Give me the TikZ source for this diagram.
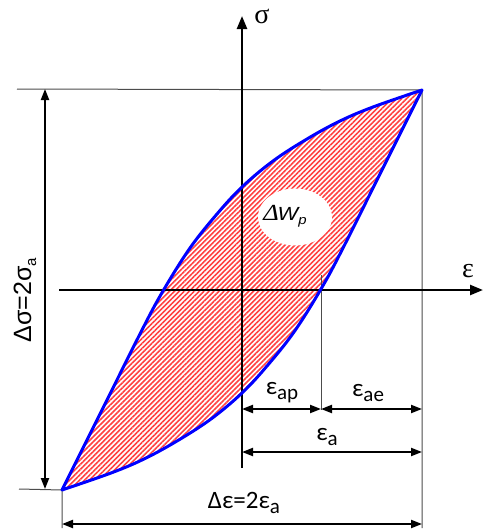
\documentclass[tikz,border=0pt]{standalone}
\usepackage{fontspec}
\setmainfont{Carlito}
\newfontfamily\arialf{Liberation Sans}
\newfontfamily\timesf{Liberation Serif}
\usetikzlibrary{arrows.meta,patterns.meta,shapes.geometric}
\begin{document}
\begin{tikzpicture}[x=1pt,y=-1pt,
  axis/.style={line width=2.4pt,-{Triangle[length=13pt,width=10pt]}},
  dim/.style={line width=2pt,{Triangle[length=11pt,width=8pt]}-{Triangle[length=11pt,width=8pt]}},
  thin/.style={line width=1pt,black!70},
  loopline/.style={line width=3pt,blue,line join=round},
  hatch/.style={pattern={Lines[angle=45,distance=3.5pt,line width=1.6pt]},pattern color=red!75},
  lab/.style={font=\fontsize{25}{28}\selectfont,inner sep=0pt},
  axlab/.style={font=\timesf\fontsize{28}{30}\selectfont,inner sep=0pt}]
\useasboundingbox (0,0) rectangle (483,530);
% key points
\coordinate (O) at (242,290);
\coordinate (A) at (422,90);
\coordinate (B) at (62,490);
\coordinate (P) at (321,290);
\coordinate (Ytop) at (242,16);
\coordinate (Ybot) at (242,468);
\coordinate (Xl) at (59,290);
\coordinate (Xr) at (483,290);
\def\upperpts{(62,490) (102,410) (142,330) (163,291) (190,248) (217,214) (242,187) (273,161) (307,139) (340,121) (373,107) (422,90)}
\def\lowerpts{(422,90) (382,170) (342,250) (321,289) (294,332) (267,366) (242,393) (211,419) (177,441) (144,459) (111,473) (62,490)}
% hatched loop
\path[hatch] plot[smooth,tension=0.6] coordinates {\upperpts}
  -- plot[smooth,tension=0.6] coordinates {\lowerpts} -- cycle;
\node[ellipse,fill=white,minimum width=74pt,minimum height=57pt,inner sep=0pt] (ell) at (295,217) {};
\node[inner sep=0pt] (dw) at (285,216) {\scalebox{1.15}[1]{\timesf\itshape\fontsize{23}{24}\selectfont Δ\kern-1pt\arialf\itshape\fontsize{19}{22}\selectfont W\raisebox{-4pt}{\fontsize{13}{14}\selectfont p}}};
% thin reference lines
\coordinate (T1) at (17,89);
\coordinate (B1) at (19,489);
\coordinate (Rb) at (422,528);
\coordinate (Lb) at (62,528);
\coordinate (Pt) at (321,275);
\coordinate (Pb) at (321,410);
\draw[thin] (T1) -- (A) -- (Rb);
\draw[thin] (B1) -- (B) -- (Lb);
\draw[thin] (Pt) -- (Pb);
% axes
\draw[axis] (Ybot) -- (Ytop);
\draw[axis] (Xl) -- (Xr);
\node[axlab] (sig) at (262,16) {σ};
\node[axlab] (eps) at (468,271) {ε};
% loop outline
\draw[loopline] plot[smooth,tension=0.6] coordinates {\upperpts}
  -- plot[smooth,tension=0.6] coordinates {\lowerpts} -- cycle;
% dimension arrows
\coordinate (Vt) at (45,89);
\coordinate (Vb) at (45,489);
\draw[dim] (Vt) -- (Vb);
\node[font=\arialf\fontsize{25}{28}\selectfont,inner sep=0pt,rotate=90] (ds) at (25,300) {Δσ=2σ\raisebox{-5pt}{\fontsize{15}{18}\selectfont a}};
\coordinate (a1) at (242,409);
\coordinate (a2) at (321,409);
\coordinate (a3) at (422,409);
\draw[dim] (a1) -- (a2);
\draw[dim] (a2) -- (a3);
\node[lab] (eap) at (282,393) {ε\raisebox{-5pt}{\fontsize{21}{24}\selectfont ap}};
\node[lab] (eae) at (368,393) {ε\raisebox{-5pt}{\fontsize{21}{24}\selectfont ae}};
\coordinate (b1) at (242,452);
\coordinate (b2) at (422,452);
\draw[dim] (b1) -- (b2);
\node[lab] (ea) at (327,437) {ε\raisebox{-5pt}{\fontsize{21}{24}\selectfont a}};
\coordinate (c1) at (62,524);
\coordinate (c2) at (422,524);
\draw[dim] (c1) -- (c2);
\node[lab] (de) at (244,503) {Δε=2ε\raisebox{-5pt}{\fontsize{21}{24}\selectfont a}};
\end{tikzpicture}
\end{document}
